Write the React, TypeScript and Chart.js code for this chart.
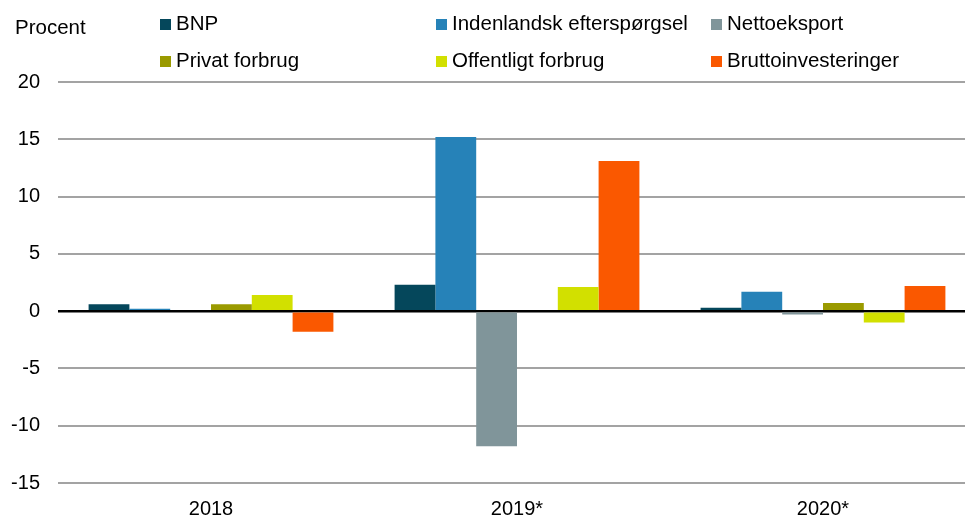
import React, { useEffect, useRef } from "react";
import { Chart, registerables } from "chart.js";

Chart.register(...registerables);

const categories = ["2018", "2019*", "2020*"];
const seriesNames = [
  "BNP",
  "Indenlandsk efterspørgsel",
  "Nettoeksport",
  "Privat forbrug",
  "Offentligt forbrug",
  "Bruttoinvesteringer",
];
const bnp = [0.6, 2.3, 0.3];
const indenlandsk = [0.2, 15.2, 1.7];
const nettoeksport = [0, -11.8, -0.3];
const privat = [0.6, 0, 0.7];
const offentligt = [1.4, 2.1, -1.0];
const brutto = [-1.8, 13.1, 2.2];
const colors = ["#05475B", "#2682B8", "#80959A", "#9A9A00", "#D2E000", "#FA5800"];
const yTicks = { min: -15, max: 20, step: 5 };
const yLabel = "Procent";

const FONT = "Liberation Sans, Arial, sans-serif";

const legendPlugin = {
  id: "customLegend",
  afterDraw(chart: any) {
    const ctx = chart.ctx;
    ctx.save();
    ctx.fillStyle = "#000";
    ctx.font = `20.5px ${FONT}`;
    ctx.textBaseline = "alphabetic";
    ctx.textAlign = "left";
    ctx.fillText(yLabel, 15, 34);
    const cols = [160, 436, 711];
    const rows = [30, 67];
    chart.data.datasets.forEach((ds: any, i: number) => {
      const x = cols[i % 3];
      const y = rows[Math.floor(i / 3)];
      ctx.fillStyle = ds.backgroundColor;
      ctx.fillRect(x, y - 11, 11, 11);
      ctx.fillStyle = "#000";
      ctx.fillText(ds.label, x + 16, y);
    });
    ctx.restore();
  },
};

export default function App() {
  const ref = useRef<HTMLCanvasElement>(null);
  useEffect(() => {
    if (!ref.current) return;
    const values = [bnp, indenlandsk, nettoeksport, privat, offentligt, brutto];
    const chart = new Chart(ref.current, {
      type: "bar",
      data: {
        labels: categories,
        datasets: seriesNames.map((name, i) => ({
          label: name,
          data: values[i],
          backgroundColor: colors[i],
          borderWidth: 0,
          categoryPercentage: 0.8,
          barPercentage: 1,
        })),
      },
      options: {
        responsive: false,
        animation: false,
        layout: { padding: { left: 0, top: 82, right: 0, bottom: 0 } },
        plugins: { legend: { display: false }, tooltip: { enabled: false } },
        scales: {
          x: {
            grid: { display: false },
            border: { display: false },
            ticks: { color: "#000", font: { family: FONT, size: 20 }, padding: 6 },
            afterFit: (s: any) => {
              s.height = 36;
            },
          },
          y: {
            min: yTicks.min,
            max: yTicks.max,
            border: { display: false },
            grid: {
              drawTicks: false,
              color: (c: any) => (c.tick && c.tick.value === 0 ? "#000" : "#a3a3a3"),
              lineWidth: (c: any) => (c.tick && c.tick.value === 0 ? 2.5 : 2),
            },
            ticks: {
              stepSize: yTicks.step,
              color: "#000",
              font: { family: FONT, size: 20 },
              padding: 18,
            },
            afterFit: (s: any) => {
              s.width = 58;
            },
          },
        },
      },
      plugins: [legendPlugin],
    });
    return () => chart.destroy();
  }, []);
  return (
    <div
      style={{
        position: "fixed",
        left: 0,
        top: 0,
        width: 965,
        height: 519,
        overflow: "hidden",
        background: "#fff",
      }}
    >
      <canvas ref={ref} width={976} height={519} style={{ display: "block" }} />
    </div>
  );
}
